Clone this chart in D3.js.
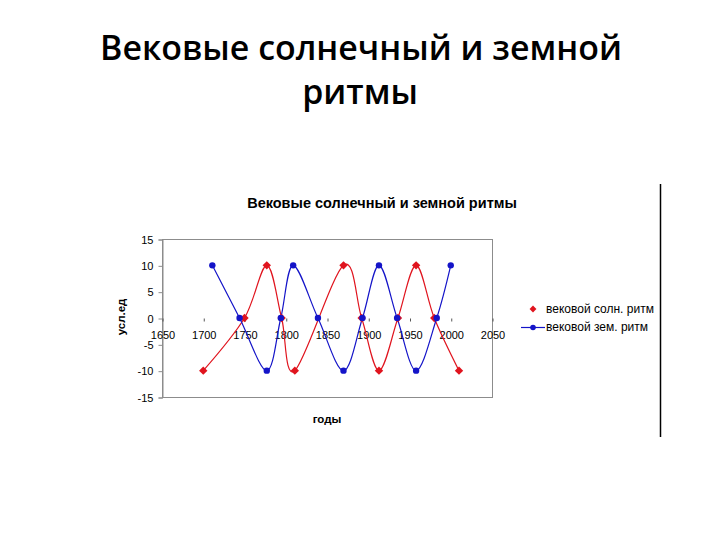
<!DOCTYPE html>
<html>
<head>
<meta charset="utf-8">
<script src="https://cdn.jsdelivr.net/npm/d3@7"></script>
<style>
  body { margin: 0; background: #fff; }
  svg { display: block; }
</style>
</head>
<body>
<script>
(function(){

    //pseudo-global data
    var solarYears  = [1700, 1750, 1777, 1795, 1811, 1870, 1892, 1913, 1936, 1958, 1980, 2010];
    var solarValues = [-10, 0, 10, 0, -10, 10, 0, -10, 0, 10, 0, -10];
    var earthYears  = [1711, 1744, 1777, 1794, 1809, 1839, 1870, 1893, 1913, 1935, 1958, 1983, 2000];
    var earthValues = [10, 0, -10, 0, 10, 0, -10, 0, 10, 0, -10, 0, 10];
    var xTicks = [1650, 1700, 1750, 1800, 1850, 1900, 1950, 2000, 2050];
    var yTicks = [-15, -10, -5, 0, 5, 10, 15];
    var seriesNames = ["вековой солн. ритм", "вековой зем. ритм"];

    var redColor = "#e0141e",
        blueColor = "#1414c8";

    var svg = d3.select("body")
        .append("svg")
        .attr("width", 720)
        .attr("height", 540);

    //slide title, two lines
    var slideTitle = svg.append("g")
        .attr("font-family", "'Open Sans', 'Noto Sans', sans-serif")
        .attr("font-weight", 600)
        .attr("text-anchor", "middle")
        .attr("fill", "#000");

    var line1 = slideTitle.append("text")
        .attr("x", 361)
        .attr("y", 60)
        .attr("font-size", 40)
        .text("Вековые солнечный и земной");
    //fit width of first line to the reference
    var w = line1.node().getComputedTextLength();
    var fs = 40 * 522 / w;
    line1.attr("font-size", fs);
    slideTitle.append("text")
        .attr("x", 360)
        .attr("y", 104)
        .attr("font-size", fs)
        .text("ритмы");

    //chart object right border
    svg.append("line")
        .attr("x1", 660.5).attr("x2", 660.5)
        .attr("y1", 184).attr("y2", 437)
        .attr("stroke", "#000")
        .attr("stroke-width", 1.5);

    //plot area
    var plot = { left: 162, right: 492, top: 239, bottom: 397 };

    var x = d3.scaleLinear()
        .domain([1650, 2050])
        .range([plot.left, plot.right]);

    var y = d3.scaleLinear()
        .domain([-15, 15])
        .range([plot.bottom, plot.top]);

    svg.append("rect")
        .attr("x", plot.left + 0.5)
        .attr("y", plot.top + 0.5)
        .attr("width", plot.right - plot.left)
        .attr("height", plot.bottom - plot.top)
        .attr("fill", "none")
        .attr("stroke", "#8c8c8c")
        .attr("stroke-width", 1);

    var chartFont = "'Liberation Sans', Arial, sans-serif";

    //y axis
    var yAxis = svg.append("g")
        .attr("transform", "translate(" + (plot.left + 0.5) + ",0.5)")
        .call(d3.axisLeft(y).tickValues(yTicks).tickSize(4).tickPadding(5).tickFormat(d3.format("d")));
    yAxis.select(".domain").attr("stroke", "#8c8c8c");
    yAxis.selectAll(".tick line").attr("stroke", "#8c8c8c");
    yAxis.selectAll(".tick text")
        .attr("font-family", chartFont)
        .attr("font-size", 11)
        .attr("fill", "#000")
        .text(function(d){ return d < 0 ? "-" + Math.abs(d) : d; });

    //x axis crossing at zero
    var xAxis = svg.append("g")
        .attr("transform", "translate(0.5," + (y(0) + 0.5) + ")")
        .call(d3.axisBottom(x).tickValues(xTicks).tickSize(3).tickPadding(10).tickFormat(d3.format("d")));
    xAxis.select(".domain").remove();
    xAxis.selectAll(".tick line").attr("stroke", "#555");
    xAxis.selectAll(".tick text")
        .attr("font-family", chartFont)
        .attr("font-size", 11)
        .attr("fill", "#000");

    //chart title and axis titles
    svg.append("text")
        .attr("x", 382)
        .attr("y", 208)
        .attr("text-anchor", "middle")
        .attr("font-family", chartFont)
        .attr("font-weight", "bold")
        .attr("font-size", 14.5)
        .text("Вековые солнечный и земной ритмы");

    svg.append("text")
        .attr("x", 327)
        .attr("y", 423)
        .attr("text-anchor", "middle")
        .attr("font-family", chartFont)
        .attr("font-weight", "bold")
        .attr("font-size", 11.5)
        .text("годы");

    svg.append("text")
        .attr("transform", "translate(125,317) rotate(-90)")
        .attr("text-anchor", "middle")
        .attr("font-family", chartFont)
        .attr("font-weight", "bold")
        .attr("font-size", 11.5)
        .text("усл.ед");

    //series
    var solar = solarYears.map(function(d, i){ return { year: d, value: solarValues[i] }; });
    var earth = earthYears.map(function(d, i){ return { year: d, value: earthValues[i] }; });

    var line = d3.line()
        .x(function(d){ return x(d.year); })
        .y(function(d){ return y(d.value); })
        .curve(d3.curveCardinal.tension(0));

    svg.append("path")
        .datum(solar)
        .attr("d", line)
        .attr("fill", "none")
        .attr("stroke", redColor)
        .attr("stroke-width", 1.2);

    svg.append("path")
        .datum(earth)
        .attr("d", line)
        .attr("fill", "none")
        .attr("stroke", blueColor)
        .attr("stroke-width", 1.2);

    var diamond = d3.symbol().type(d3.symbolDiamond2).size(45);

    svg.selectAll(".solarPt")
        .data(solar)
        .enter()
        .append("path")
        .attr("class", "solarPt")
        .attr("d", diamond)
        .attr("transform", function(d){ return "translate(" + x(d.year) + "," + y(d.value) + ")"; })
        .attr("fill", redColor);

    svg.selectAll(".earthPt")
        .data(earth)
        .enter()
        .append("circle")
        .attr("class", "earthPt")
        .attr("cx", function(d){ return x(d.year); })
        .attr("cy", function(d){ return y(d.value); })
        .attr("r", 3.2)
        .attr("fill", blueColor);

    //legend
    var legend = svg.append("g");
    legend.append("path")
        .attr("d", d3.symbol().type(d3.symbolDiamond2).size(30))
        .attr("transform", "translate(533,309)")
        .attr("fill", redColor);
    legend.append("line")
        .attr("x1", 521).attr("x2", 545)
        .attr("y1", 327.5).attr("y2", 327.5)
        .attr("stroke", blueColor)
        .attr("stroke-width", 1.2);
    legend.append("circle")
        .attr("cx", 533).attr("cy", 327.5)
        .attr("r", 2.8)
        .attr("fill", blueColor);
    legend.selectAll(".legText")
        .data(seriesNames)
        .enter()
        .append("text")
        .attr("class", "legText")
        .attr("x", 546)
        .attr("y", function(d, i){ return 313 + i * 18; })
        .attr("font-family", chartFont)
        .attr("font-size", 12)
        .text(function(d){ return d; });

})();
</script>
</body>
</html>
